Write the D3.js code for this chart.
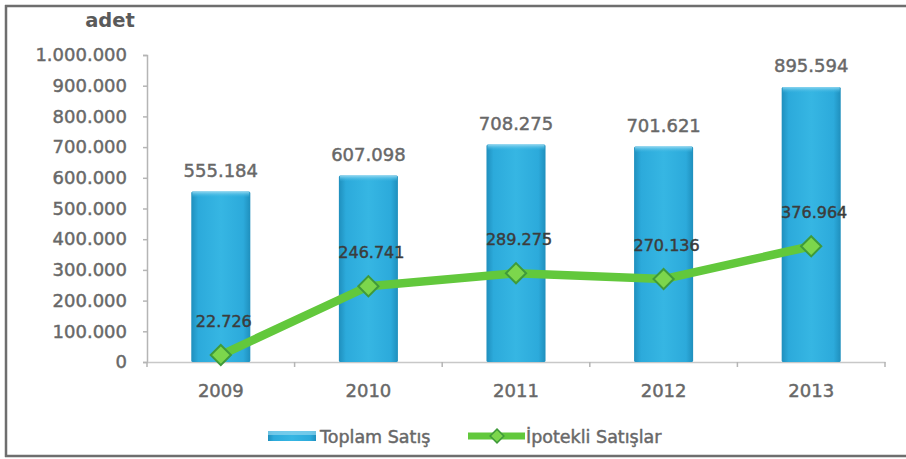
<!DOCTYPE html>
<html>
<head>
<meta charset="utf-8">
<script src="https://cdn.jsdelivr.net/npm/d3@7"></script>
<style>
  html, body { margin: 0; padding: 0; background: #fff; }
  svg { display: block; }
  text { font-family: "DejaVu Sans", Verdana, sans-serif; }
  .semi { stroke-width: 0.45px; paint-order: stroke; }
</style>
</head>
<body>
<svg id="chart" width="906" height="459"></svg>
<script>
// Yearly housing sales (adet)
const years = ["2009", "2010", "2011", "2012", "2013"];
const totalSales = [555184, 607098, 708275, 701621, 895594];
const mortgageSales = [22726, 246741, 289275, 270136, 376964];
const totalLabels = ["555.184", "607.098", "708.275", "701.621", "895.594"];
const mortgageLabels = ["22.726", "246.741", "289.275", "270.136", "376.964"];
const yTicks = [0, 100000, 200000, 300000, 400000, 500000, 600000, 700000, 800000, 900000, 1000000];
const seriesNames = ["Toplam Satış", "İpotekli Satışlar"];

(function () {
const svg = d3.select("#chart");
const W = 906;

// outer frame (top, left, bottom edges)
const frame = svg.append("g").attr("stroke", "#6e6e6e").attr("stroke-width", 2.5).attr("fill", "none");
frame.append("line").attr("x1", 5).attr("x2", W).attr("y1", 6).attr("y2", 6);
frame.append("line").attr("x1", 6).attr("x2", 6).attr("y1", 5).attr("y2", 457);
frame.append("line").attr("x1", 5).attr("x2", W).attr("y1", 456).attr("y2", 456);

const plotL = 147, plotR = 885, plotT = 55, plotB = 362;
const axisGrey = "#686868";

const x = d3.scaleBand().domain(years).range([plotL, plotR]).paddingInner(0.6).paddingOuter(0.3);
const xOuter = d3.scaleBand().domain(years).range([plotL, plotR]);
const y = d3.scaleLinear().domain([0, 1000000]).range([plotB, plotT]);

const fmt = v => d3.format(",")(v).replace(/,/g, ".");
const semi = (sel, color) => sel.attr("fill", color).attr("stroke", color).classed("semi", true);

// gradients for bars
const defs = svg.append("defs");
const g1 = defs.append("linearGradient").attr("id", "barGrad").attr("x1", 0).attr("x2", 1).attr("y1", 0).attr("y2", 0);
g1.append("stop").attr("offset", "0%").attr("stop-color", "#1f8fbd");
g1.append("stop").attr("offset", "12%").attr("stop-color", "#2caadb");
g1.append("stop").attr("offset", "50%").attr("stop-color", "#36b6e3");
g1.append("stop").attr("offset", "88%").attr("stop-color", "#2caadb");
g1.append("stop").attr("offset", "100%").attr("stop-color", "#1f8fbd");
const g2 = defs.append("linearGradient").attr("id", "barTop").attr("x1", 0).attr("x2", 0).attr("y1", 0).attr("y2", 1);
g2.append("stop").attr("offset", "0%").attr("stop-color", "#8fd6f0");
g2.append("stop").attr("offset", "100%").attr("stop-color", "#34b3e0").attr("stop-opacity", 0);

// y axis
const yAxis = d3.axisLeft(y).tickValues(yTicks).tickSize(4).tickPadding(16).tickFormat(fmt);
const ya = svg.append("g").attr("transform", `translate(${plotL},0)`).call(yAxis);
ya.select(".domain").attr("stroke", "#b5b5b5").attr("stroke-width", 1.5);
ya.selectAll(".tick line").attr("stroke", "#b5b5b5").attr("stroke-width", 1.5);
semi(ya.selectAll(".tick text"), axisGrey).attr("font-size", 18);

// x axis
const xAxis = d3.axisBottom(xOuter).tickSize(0).tickPadding(22);
const xa = svg.append("g").attr("transform", `translate(0,${plotB})`).call(xAxis);
xa.select(".domain").attr("stroke", "#c8c8c8").attr("stroke-width", 1.5);
semi(xa.selectAll(".tick text"), axisGrey).attr("font-size", 18);
const bounds = years.map(d => xOuter(d)).concat([plotR]);
svg.append("g").selectAll("line").data(bounds).join("line")
  .attr("x1", d => d).attr("x2", d => d).attr("y1", plotB).attr("y2", plotB + 5)
  .attr("stroke", "#b5b5b5").attr("stroke-width", 1.5);

// axis title
svg.append("text").attr("x", 110).attr("y", 27).attr("text-anchor", "middle")
  .attr("fill", "#5a5a5a").attr("font-size", 19.5).attr("font-weight", 700).text("adet");

// bars
const bars = svg.append("g");
years.forEach((yr, i) => {
  const bx = x(yr), bw = x.bandwidth(), by = y(totalSales[i]);
  bars.append("rect").attr("x", bx).attr("y", by).attr("width", bw).attr("height", plotB - by)
    .attr("fill", "url(#barGrad)").attr("rx", 1.5);
  bars.append("rect").attr("x", bx + 1).attr("y", by).attr("width", bw - 2).attr("height", 6)
    .attr("fill", "url(#barTop)");
});

// bar value labels
semi(svg.append("g").selectAll("text").data(years).join("text")
  .attr("x", d => x(d) + x.bandwidth() / 2)
  .attr("y", (d, i) => y(totalSales[i]) - 15)
  .attr("text-anchor", "middle").attr("font-size", 18)
  .text((d, i) => totalLabels[i]), axisGrey);

// mortgage line
const cx = d => xOuter(d) + xOuter.bandwidth() / 2;
const line = d3.line().x((d, i) => cx(years[i])).y(d => y(d));
svg.append("path").datum(mortgageSales).attr("d", line)
  .attr("fill", "none").attr("stroke", "#62c83c").attr("stroke-width", 8.5)
  .attr("stroke-linejoin", "round").attr("stroke-linecap", "round");

// diamond markers
const diamond = d3.symbol().type(d3.symbolDiamond2).size(260);
svg.append("g").selectAll("path").data(mortgageSales).join("path")
  .attr("d", diamond)
  .attr("transform", (d, i) => `translate(${cx(years[i])},${y(d)})`)
  .attr("fill", "#7cd64c").attr("stroke", "#3f9a3a").attr("stroke-width", 2);

// mortgage value labels
semi(svg.append("g").selectAll("text").data(years).join("text")
  .attr("x", d => cx(d) + 3)
  .attr("y", (d, i) => y(mortgageSales[i]) - 28)
  .attr("text-anchor", "middle").attr("font-size", 16)
  .text((d, i) => mortgageLabels[i]), "#3c3c3c");

// legend
const lg = svg.append("g");
lg.append("rect").attr("x", 268).attr("y", 431).attr("width", 48).attr("height", 10)
  .attr("fill", "url(#barGrad)");
lg.append("rect").attr("x", 268).attr("y", 431).attr("width", 48).attr("height", 4)
  .attr("fill", "#8fd6f0").attr("opacity", 0.7);
semi(lg.append("text").attr("x", 320).attr("y", 443)
  .attr("font-size", 17.5).text(seriesNames[0]), axisGrey);
lg.append("line").attr("x1", 468).attr("x2", 525).attr("y1", 436).attr("y2", 436)
  .attr("stroke", "#62c83c").attr("stroke-width", 7);
lg.append("path").attr("d", d3.symbol().type(d3.symbolDiamond2).size(120))
  .attr("transform", "translate(497,436)").attr("fill", "#7cd64c").attr("stroke", "#3f9a3a").attr("stroke-width", 1.5);
semi(lg.append("text").attr("x", 526).attr("y", 443)
  .attr("font-size", 17.5).text(seriesNames[1]), axisGrey);
})();
</script>
</body>
</html>
